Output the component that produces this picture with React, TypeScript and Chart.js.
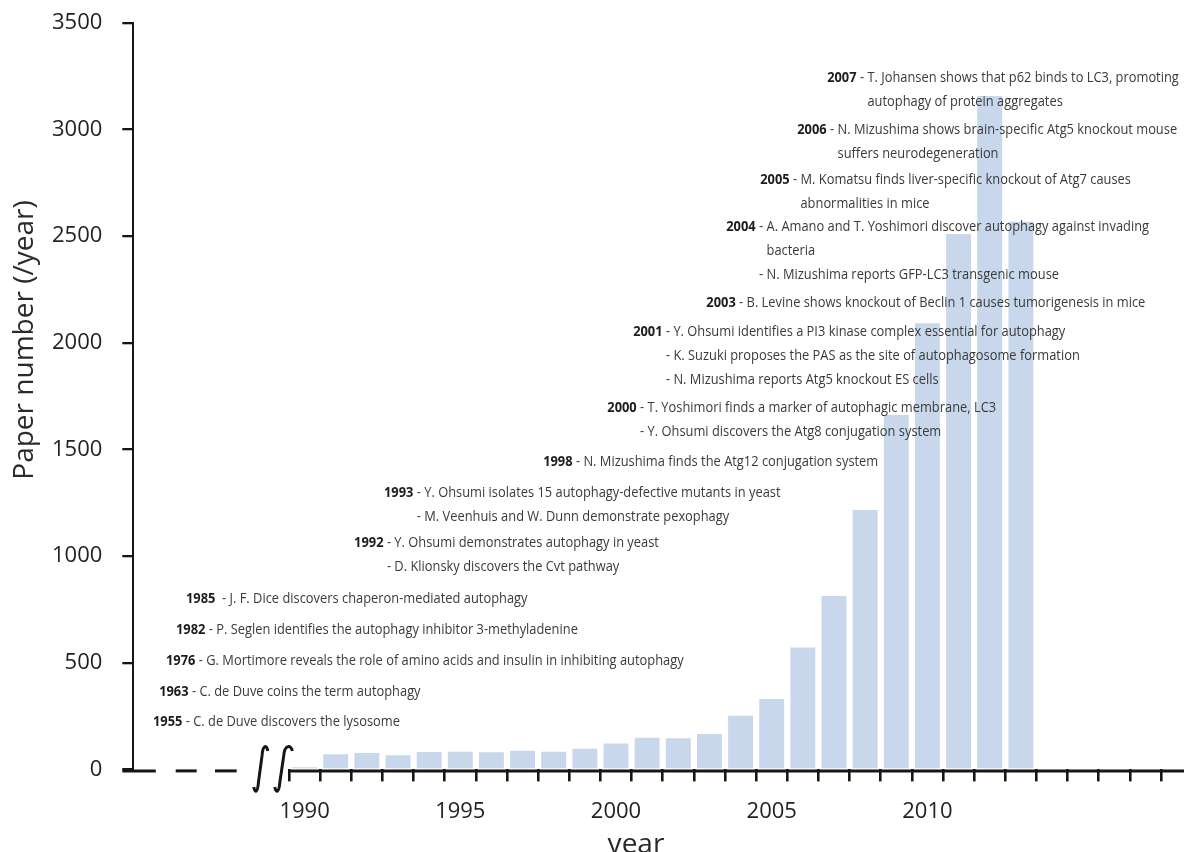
import React, { useEffect, useRef } from 'react';
import { Chart, registerables } from 'chart.js';

Chart.register(...registerables);

// ---------- data ----------
const SLOT_YEARS = [
  1985, 1986, 1987, 1988, 1989, 1990, 1991, 1992, 1993, 1994, 1995, 1996, 1997, 1998, 1999, 2000, 2001,
  2002, 2003, 2004, 2005, 2006, 2007, 2008, 2009, 2010, 2011, 2012, 2013, 2014, 2015, 2016, 2017,
];
const BAR_YEARS = [
  1990, 1991, 1992, 1993, 1994, 1995, 1996, 1997, 1998, 1999, 2000, 2001, 2002, 2003, 2004, 2005, 2006,
  2007, 2008, 2009, 2010, 2011, 2012, 2013,
];
const PAPERS = [
  10, 71, 77, 66, 82, 83, 80, 88, 83, 97, 121, 148, 146, 166, 251, 330, 571, 813, 1216, 1661, 2091, 2509,
  3156, 2567,
];
const X_TICK_YEARS = [1990, 1995, 2000, 2005, 2010];
const Y_MIN = 0;
const Y_MAX = 3500;
const Y_STEP = 500;

const EVENT_YEARS = [
  '1955', '1963', '1976', '1982', '1985', '1992', '1993', '1998', '2000', '2001', '2003', '2004', '2005',
  '2006', '2007',
];
const EVENT_TEXTS: string[][] = [
  ['- C. de Duve discovers the lysosome'],
  ['- C. de Duve coins the term autophagy'],
  ['- G. Mortimore reveals the role of amino acids and insulin in inhibiting autophagy'],
  ['- P. Seglen identifies the autophagy inhibitor 3-methyladenine'],
  [' - J. F. Dice discovers chaperon-mediated autophagy'],
  ['- Y. Ohsumi demonstrates autophagy in yeast', '- D. Klionsky discovers the Cvt pathway'],
  ['- Y. Ohsumi isolates 15 autophagy-defective mutants in yeast', '- M. Veenhuis and W. Dunn demonstrate pexophagy'],
  ['- N. Mizushima finds the Atg12 conjugation system'],
  ['- T. Yoshimori finds a marker of autophagic membrane, LC3', '- Y. Ohsumi discovers the Atg8 conjugation system'],
  [
    '- Y. Ohsumi identifies a PI3 kinase complex essential for autophagy',
    '- K. Suzuki proposes the PAS as the site of autophagosome formation',
    '- N. Mizushima reports Atg5 knockout ES cells',
  ],
  ['- B. Levine shows knockout of Beclin 1 causes tumorigenesis in mice'],
  ['- A. Amano and T. Yoshimori discover autophagy against invading', 'bacteria', '- N. Mizushima reports GFP-LC3 transgenic mouse'],
  ['- M. Komatsu finds liver-specific knockout of Atg7 causes', 'abnormalities in mice'],
  ['- N. Mizushima shows brain-specific Atg5 knockout mouse', 'suffers neurodegeneration'],
  ['- T. Johansen shows that p62 binds to LC3, promoting', 'autophagy of protein aggregates'],
];

// ---------- layout (annotation anchors in scale units: slot index, paper count) ----------
const EVENT_ANCHOR_X = [0.13, 0.33, 0.55, 0.87, 1.19, 6.59, 7.55, 12.66, 14.72, 15.55, 17.9, 18.54, 19.63, 20.82, 21.78];
const EVENT_ANCHOR_Y = [222, 365, 508, 653, 799, 1061, 1296, 1441, 1694, 2050, 2186, 2542, 2762, 2997, 3240];

const FONT = '"Open Sans", "Noto Sans", sans-serif';
const AXIS_COLOR = '#161616';
const BAR_COLOR = '#c8d7eb';
const TEXT_COLOR = '#3a3a3a';
const YEAR_COLOR = '#1c1c1c';

const overlay = {
  id: 'overlay',
  afterDraw(chart: any) {
    const { ctx, chartArea, scales } = chart;
    const xs = scales.x;
    const ys = scales.y;
    const L = chartArea.left;
    const B = chartArea.bottom;
    const slot = xs.getPixelForValue(1) - xs.getPixelForValue(0);
    ctx.save();

    // broken x axis line
    const ay = B + 1.5;
    ctx.strokeStyle = AXIS_COLOR;
    ctx.lineWidth = 3;
    ctx.lineCap = 'butt';
    const seg = (a: number, b: number) => {
      ctx.beginPath();
      ctx.moveTo(a, ay);
      ctx.lineTo(b, ay);
      ctx.stroke();
    };
    seg(L - 11, L + 22.5);
    seg(L + 42.4, L + 63.4);
    seg(L + 81.7, L + 103.4);
    const start = xs.getPixelForValue(SLOT_YEARS.indexOf(BAR_YEARS[0])) - slot / 2;
    seg(start - 1, chart.width);

    // break marks
    const integral = (topTip: number, stemTop: number, stemBot: number, botTip: number) => {
      const y0 = ay - 25;
      const y1 = ay + 21;
      ctx.beginPath();
      ctx.moveTo(L + topTip, y0 + 5);
      ctx.bezierCurveTo(L + topTip - 1, y0 - 1, L + stemTop + 1, y0 - 2, L + stemTop, y0 + 10);
      ctx.lineTo(L + stemBot, y1 - 10);
      ctx.bezierCurveTo(L + stemBot - 1, y1 + 2, L + botTip + 1, y1 + 1, L + botTip, y1 - 5);
      ctx.stroke();
    };
    ctx.lineWidth = 3;
    integral(134.5, 128.7, 125.2, 120.5);
    integral(159, 150.4, 146.6, 141.5);

    // annotations
    const BOLD = `bold 14px ${FONT}`;
    const REG = `14px ${FONT}`;
    ctx.font = BOLD;
    const refHead = ctx.measureText('2003').width;
    ctx.font = REG;
    const refBody = ctx.measureText(' - B. Levine shows knockout of Beclin 1 causes tumorigenesis in mice').width;
    const sx = 439 / (refHead + refBody);
    const LINE_GAP = 23.8;
    ctx.textBaseline = 'middle';
    ctx.textAlign = 'left';
    const draw = (t: string, x: number, y: number, font: string, color: string) => {
      ctx.save();
      ctx.translate(x, y);
      ctx.scale(sx, 1);
      ctx.font = font;
      ctx.fillStyle = color;
      ctx.fillText(t, 0, 0);
      ctx.restore();
    };
    EVENT_YEARS.forEach((head, i) => {
      const x0 = xs.getPixelForValue(EVENT_ANCHOR_X[i]);
      const y0 = ys.getPixelForValue(EVENT_ANCHOR_Y[i]);
      ctx.font = BOLD;
      const hw = ctx.measureText(head).width * sx;
      ctx.font = REG;
      const sw = ctx.measureText(' ').width * sx;
      const dw = ctx.measureText('- ').width * sx;
      EVENT_TEXTS[i].forEach((line, j) => {
        const y = y0 + j * LINE_GAP;
        if (j === 0) {
          draw(head, x0, y, BOLD, YEAR_COLOR);
          draw(' ' + line, x0 + hw, y, REG, TEXT_COLOR);
        } else if (line.startsWith('-')) {
          draw(line, x0 + hw + sw, y, REG, TEXT_COLOR);
        } else {
          draw(line, x0 + hw + sw + dw, y, REG, TEXT_COLOR);
        }
      });
    });

    // axis titles
    ctx.fillStyle = '#2a2a2a';
    ctx.font = `28px ${FONT}`;
    ctx.textAlign = 'center';
    ctx.textBaseline = 'alphabetic';
    ctx.fillText('year', 636, 853);
    ctx.save();
    ctx.translate(33, 340);
    ctx.rotate(-Math.PI / 2);
    ctx.fillText('Paper number (/year)', 0, 0);
    ctx.restore();

    ctx.restore();
  },
};

export default function App() {
  const ref = useRef<HTMLCanvasElement>(null);
  useEffect(() => {
    const canvas = ref.current;
    if (!canvas) return;
    const barData = SLOT_YEARS.map((yr) => {
      const k = BAR_YEARS.indexOf(yr);
      return k >= 0 ? PAPERS[k] : null;
    });
    const firstVisible = SLOT_YEARS.indexOf(BAR_YEARS[0]);
    const chart = new Chart(canvas, {
      type: 'bar',
      data: {
        labels: SLOT_YEARS.map(String),
        datasets: [
          {
            data: barData,
            backgroundColor: BAR_COLOR,
            borderWidth: 0,
            barPercentage: 0.8,
            categoryPercentage: 1,
          },
        ],
      },
      options: {
        animation: false,
        responsive: false,
        maintainAspectRatio: false,
        layout: { autoPadding: false, padding: { left: 0, right: 23, top: 22.7, bottom: 0 } },
        plugins: { legend: { display: false }, tooltip: { enabled: false } },
        scales: {
          x: {
            offset: true,
            afterFit: (s: any) => {
              s.height = 82.6;
              s.paddingLeft = 0;
              s.paddingRight = 0;
            },
            border: { display: false },
            grid: {
              offset: true,
              drawOnChartArea: false,
              tickLength: 12,
              lineWidth: 2.6,
              color: (c: any) => (c.index === undefined || c.index >= firstVisible ? AXIS_COLOR : 'rgba(0,0,0,0)'),
            },
            ticks: {
              autoSkip: false,
              maxRotation: 0,
              minRotation: 0,
              padding: 17,
              color: '#222',
              font: { family: FONT, size: 22 },
              callback: (_v: any, i: number) => (X_TICK_YEARS.includes(SLOT_YEARS[i]) ? String(SLOT_YEARS[i]) : ''),
            },
          },
          y: {
            min: Y_MIN,
            max: Y_MAX,
            afterFit: (s: any) => {
              s.width = 133.3;
              s.paddingTop = 0;
              s.paddingBottom = 0;
            },
            border: { display: true, width: 2, color: AXIS_COLOR },
            grid: { drawOnChartArea: false, tickLength: 11, lineWidth: 2.3, color: AXIS_COLOR },
            ticks: {
              stepSize: Y_STEP,
              padding: 20,
              color: '#222',
              font: { family: FONT, size: 22 },
              callback: (v: any) => String(v),
            },
          },
        },
      },
      plugins: [overlay],
    });
    return () => chart.destroy();
  }, []);
  return (
    <div style={{ position: 'fixed', left: 0, top: 0, width: 1184, height: 852, background: '#fff' }}>
      <canvas ref={ref} width={1184} height={852} style={{ display: 'block', width: 1184, height: 852 }} />
    </div>
  );
}
